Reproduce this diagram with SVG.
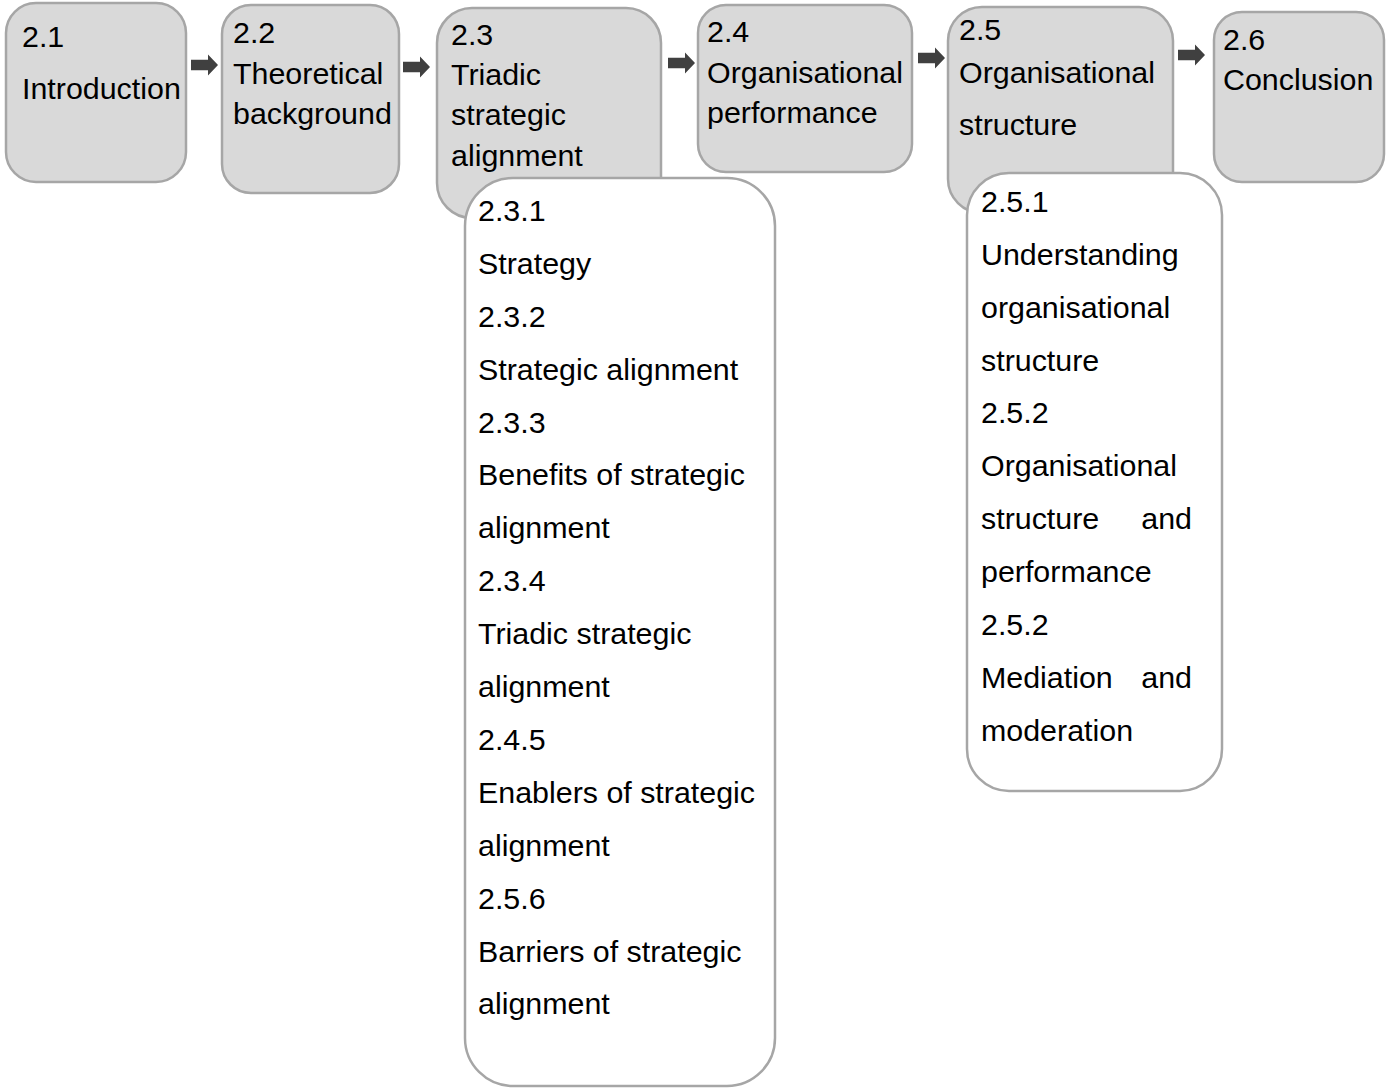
<svg xmlns="http://www.w3.org/2000/svg" width="1386" height="1088" viewBox="0 0 1386 1088">
  <style>
    .main { fill: #d9d9d9; stroke: #a6a6a6; stroke-width: 2.5; }
    .sub { fill: #ffffff; stroke: #a6a6a6; stroke-width: 2.5; }
    text { font-family: "Liberation Sans", Arial, sans-serif; font-size: 30.4px; fill: #000000; }
    .arrow { fill: #404040; }
  </style>
  <defs>
    <!-- block arrow, origin at the tail centre -->
    <path id="blockArrow" d="M0,-5.3 L17,-5.3 L17,-10.5 L27,0 L17,10.5 L17,5.3 L0,5.3 Z"/>
  </defs>

  <!-- connectors between the main sections -->
  <g id="connectors" class="arrow">
    <use href="#blockArrow" x="191" y="65"/>
    <use href="#blockArrow" x="403" y="67"/>
    <use href="#blockArrow" x="668" y="63"/>
    <use href="#blockArrow" x="918" y="58"/>
    <use href="#blockArrow" x="1178" y="55"/>
  </g>

  <g id="node-2-1">
    <rect class="main" x="6" y="3" width="180" height="179" rx="30" ry="30"/>
    <text x="22" y="47">2.1</text>
    <text x="22" y="99">Introduction</text>
  </g>

  <g id="node-2-2">
    <rect class="main" x="222" y="5" width="177" height="188" rx="29" ry="29"/>
    <text x="233" y="43">2.2</text>
    <text x="233" y="84">Theoretical</text>
    <text x="233" y="124">background</text>
  </g>

  <g id="node-2-3">
    <rect class="main" x="437" y="8" width="224" height="210" rx="35" ry="35"/>
    <text x="451" y="45">2.3</text>
    <text x="451" y="85">Triadic</text>
    <text x="451" y="125">strategic</text>
    <text x="451" y="166">alignment</text>
  </g>

  <g id="node-2-4">
    <rect class="main" x="698" y="5" width="214" height="167" rx="28" ry="28"/>
    <text x="707" y="42">2.4</text>
    <text x="707" y="83">Organisational</text>
    <text x="707" y="123">performance</text>
  </g>

  <g id="node-2-5">
    <rect class="main" x="948" y="7" width="225" height="206" rx="34" ry="34"/>
    <text x="959" y="40">2.5</text>
    <text x="959" y="83">Organisational</text>
    <text x="959" y="135">structure</text>
  </g>

  <g id="node-2-6">
    <rect class="main" x="1214" y="12" width="170" height="170" rx="28" ry="28"/>
    <text x="1223" y="50">2.6</text>
    <text x="1223" y="90">Conclusion</text>
  </g>

  <g id="node-2-3-sub">
    <rect class="sub" x="465" y="178" width="310" height="908" rx="48" ry="48"/>
    <text x="478" y="221">2.3.1</text>
    <text x="478" y="274">Strategy</text>
    <text x="478" y="327">2.3.2</text>
    <text x="478" y="380">Strategic alignment</text>
    <text x="478" y="433">2.3.3</text>
    <text x="478" y="485">Benefits of strategic</text>
    <text x="478" y="538">alignment</text>
    <text x="478" y="591">2.3.4</text>
    <text x="478" y="644">Triadic strategic</text>
    <text x="478" y="697">alignment</text>
    <text x="478" y="750">2.4.5</text>
    <text x="478" y="803">Enablers of strategic</text>
    <text x="478" y="856">alignment</text>
    <text x="478" y="909">2.5.6</text>
    <text x="478" y="962">Barriers of strategic</text>
    <text x="478" y="1014">alignment</text>
  </g>

  <g id="node-2-5-sub">
    <rect class="sub" x="967" y="173" width="255" height="618" rx="42" ry="42"/>
    <text x="981" y="212">2.5.1</text>
    <text x="981" y="265">Understanding</text>
    <text x="981" y="318">organisational</text>
    <text x="981" y="371">structure</text>
    <text x="981" y="423">2.5.2</text>
    <text x="981" y="476">Organisational</text>
    <text x="981" y="529">structure</text>
    <text x="1192" y="529" text-anchor="end">and</text>
    <text x="981" y="582">performance</text>
    <text x="981" y="635">2.5.2</text>
    <text x="981" y="688">Mediation</text>
    <text x="1192" y="688" text-anchor="end">and</text>
    <text x="981" y="741">moderation</text>
  </g>
</svg>
